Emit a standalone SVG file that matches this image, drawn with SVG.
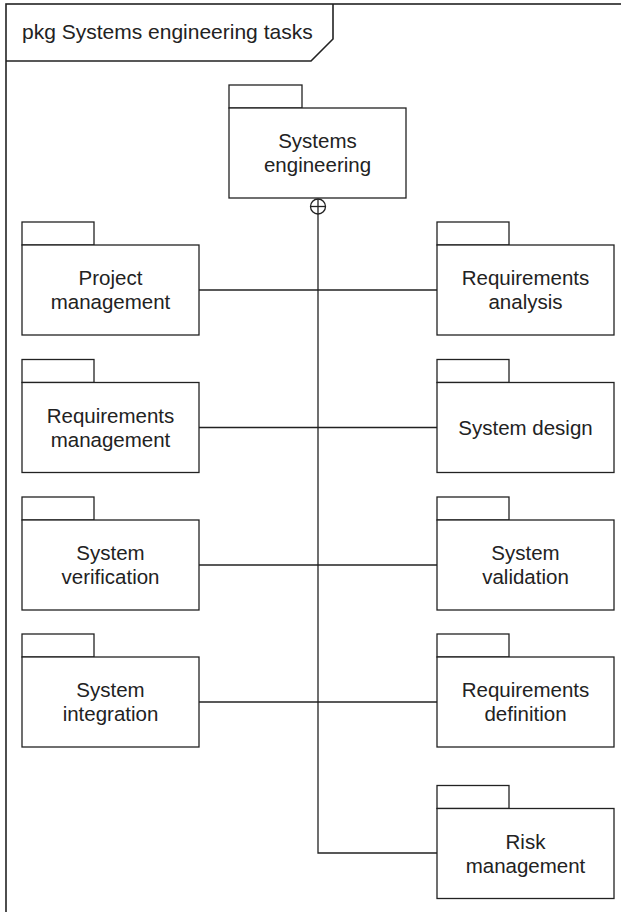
<svg xmlns="http://www.w3.org/2000/svg" width="621" height="912" viewBox="0 0 621 912">
<style>
.frame{fill:none;stroke:#222;stroke-width:1.6}
.box{fill:#fff;stroke:#222;stroke-width:1.3}
.tab{fill:#fff;stroke:#222;stroke-width:1.3}
.conn{fill:none;stroke:#222;stroke-width:1.3}
text{font-family:"Liberation Sans",Arial,Helvetica,sans-serif;font-size:20.5px;fill:#222;text-anchor:middle}
.hdr{font-size:21px;text-anchor:start}
</style>
<rect width="621" height="912" fill="#fff"/>
<g id="frame">
<rect class="frame" x="6" y="4" width="700" height="1000"/>
<path class="frame" d="M6,61 H311 L333,39 V4"/>
<text class="hdr" x="22" y="39">pkg Systems engineering tasks</text>
</g>
<g id="connectors">
<circle class="conn" cx="318" cy="206.5" r="7.5"/>
<line class="conn" x1="310.5" y1="206.5" x2="325.5" y2="206.5"/>
<polyline class="conn" points="318,199 318,853 437,853"/>
<line class="conn" x1="199" y1="290" x2="437" y2="290"/>
<line class="conn" x1="199" y1="427.5" x2="437" y2="427.5"/>
<line class="conn" x1="199" y1="565" x2="437" y2="565"/>
<line class="conn" x1="199" y1="702" x2="437" y2="702"/>
</g>
<g id="systems-engineering">
<rect class="tab" x="229" y="85" width="73" height="23"/>
<rect class="box" x="229" y="108" width="177" height="90"/>
<text x="317.5" y="148">Systems</text>
<text x="317.5" y="172">engineering</text>
</g>
<g id="project-management">
<rect class="tab" x="22" y="222" width="72" height="23"/>
<rect class="box" x="22" y="245" width="177" height="90"/>
<text x="110.5" y="285">Project</text>
<text x="110.5" y="309">management</text>
</g>
<g id="requirements-analysis">
<rect class="tab" x="437" y="222" width="72" height="23"/>
<rect class="box" x="437" y="245" width="177" height="90"/>
<text x="525.5" y="285">Requirements</text>
<text x="525.5" y="309">analysis</text>
</g>
<g id="requirements-management">
<rect class="tab" x="22" y="359.5" width="72" height="23"/>
<rect class="box" x="22" y="382.5" width="177" height="90"/>
<text x="110.5" y="422.5">Requirements</text>
<text x="110.5" y="446.5">management</text>
</g>
<g id="system-design">
<rect class="tab" x="437" y="359.5" width="72" height="23"/>
<rect class="box" x="437" y="382.5" width="177" height="90"/>
<text x="525.5" y="434.5">System design</text>
</g>
<g id="system-verification">
<rect class="tab" x="22" y="497" width="72" height="23"/>
<rect class="box" x="22" y="520" width="177" height="90"/>
<text x="110.5" y="560">System</text>
<text x="110.5" y="584">verification</text>
</g>
<g id="system-validation">
<rect class="tab" x="437" y="497" width="72" height="23"/>
<rect class="box" x="437" y="520" width="177" height="90"/>
<text x="525.5" y="560">System</text>
<text x="525.5" y="584">validation</text>
</g>
<g id="system-integration">
<rect class="tab" x="22" y="634" width="72" height="23"/>
<rect class="box" x="22" y="657" width="177" height="90"/>
<text x="110.5" y="697">System</text>
<text x="110.5" y="721">integration</text>
</g>
<g id="requirements-definition">
<rect class="tab" x="437" y="634" width="72" height="23"/>
<rect class="box" x="437" y="657" width="177" height="90"/>
<text x="525.5" y="697">Requirements</text>
<text x="525.5" y="721">definition</text>
</g>
<g id="risk-management">
<rect class="tab" x="437" y="785.5" width="72" height="23"/>
<rect class="box" x="437" y="808.5" width="177" height="90"/>
<text x="525.5" y="848.5">Risk</text>
<text x="525.5" y="872.5">management</text>
</g>
</svg>
